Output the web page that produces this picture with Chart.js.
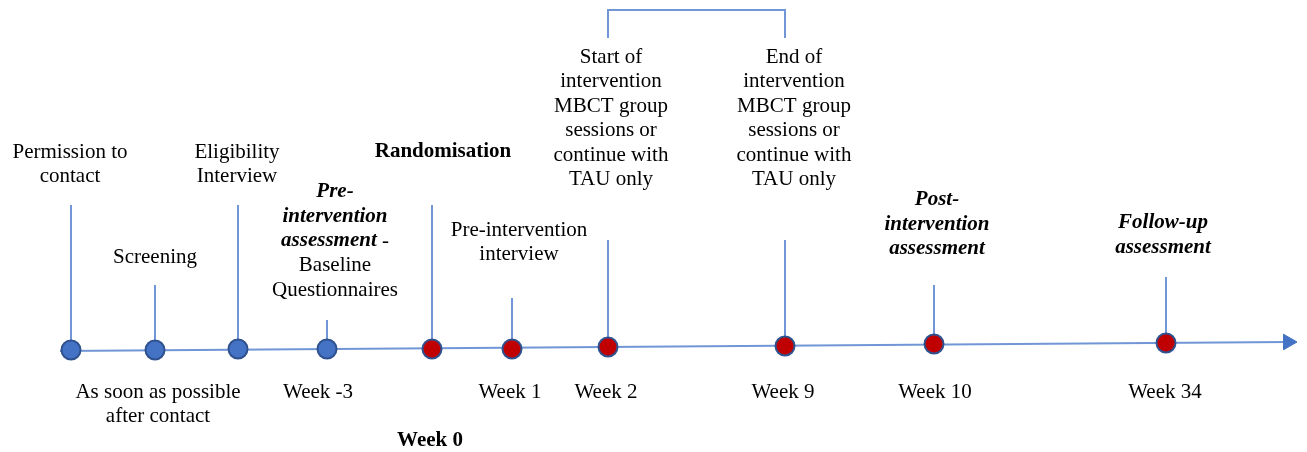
<!DOCTYPE html>
<html>
<head>
<meta charset="utf-8">
<script src="https://cdn.jsdelivr.net/npm/chart.js@4"></script>
<style>
html, body { margin: 0; background: #fff; }
</style>
</head>
<body>
<canvas id="timeline" width="1307" height="452"></canvas>
<script>
// Etapas del estudio a lo largo de la flecha
const stageNames = ['Permission to contact', 'Screening', 'Eligibility Interview', 'Pre-intervention assessment',
    'Randomisation', 'Pre-intervention interview', 'Start of intervention', 'End of intervention',
    'Post-intervention assessment', 'Follow-up assessment'];
const stageX  = [71, 155, 238, 327, 432, 512, 608, 785, 934, 1166];
const stageY  = [350, 350, 349, 349, 349, 349, 347, 346, 344, 343];
const stemTop = [205, 285, 205, 320, 205, 298, 240, 240, 285, 277];
const stagePhase = ['pre', 'pre', 'pre', 'pre', 'post', 'post', 'post', 'post', 'post', 'post'];

// flecha principal y corchete de la intervencion
const axisX = [60, 1288];
const axisY = [351, 342];
const bracketX = [608, 785];
const bracketY = [38, 10];

// textos de arriba (b = negrita, bi = negrita cursiva)
const topTexts = [
    ['Permission to', 'contact'],
    ['Screening'],
    ['Eligibility', 'Interview'],
    [[['Pre-', 'bi']], [['intervention', 'bi']], [['assessment', 'bi'], [' -', 'n']], 'Baseline', 'Questionnaires'],
    [[['Randomisation', 'b']]],
    ['Pre-intervention', 'interview'],
    ['Start of', 'intervention', 'MBCT group', 'sessions or', 'continue with', 'TAU only'],
    ['End of', 'intervention', 'MBCT group', 'sessions or', 'continue with', 'TAU only'],
    [[['Post-', 'bi']], [['intervention', 'bi']], [['assessment', 'bi']]],
    [[['Follow-up', 'bi']], [['assessment', 'bi']]]
];
// textos de abajo (semanas)
const weekTexts = [
    ['As soon as possible', 'after contact'],
    ['Week -3'],
    [[['Week 0', 'b']]],
    ['Week 1'],
    ['Week 2'],
    ['Week 9'],
    ['Week 10'],
    ['Week 34']
];

// ubicacion de cada texto (centro, primera linea)
const topPos = [[70, 152], [155, 257], [237, 152], [335, 192], [443, 152], [519, 230], [611, 57], [794, 57], [937, 200], [1163, 223]];
const weekPos = [[158, 392], [318, 392], [430, 441], [510, 392], [606, 392], [783, 392], [935, 392], [1165, 392]];

const lineBlue = '#7096d6';
const fonts = {
    n: '21px "Liberation Serif", "Times New Roman", serif',
    b: 'bold 21px "Liberation Serif", "Times New Roman", serif',
    bi: 'italic bold 21px "Liberation Serif", "Times New Roman", serif'
};

function drawBlock(ctx, xs, ys, cx, cy, lines) {
    const px = xs.getPixelForValue(cx);
    let py = ys.getPixelForValue(cy);
    lines.forEach(line => {
        const runs = typeof line === 'string' ? [[line, 'n']] : line;
        let w = 0;
        runs.forEach(r => { ctx.font = fonts[r[1]]; w += ctx.measureText(r[0]).width; });
        let x = px - w / 2;
        runs.forEach(r => {
            ctx.font = fonts[r[1]];
            ctx.fillText(r[0], x, py);
            x += ctx.measureText(r[0]).width;
        });
        py += 24.5;
    });
}

const textPlugin = {
    id: 'textos',
    afterDatasetsDraw(chart) {
        const ctx = chart.ctx;
        const xs = chart.scales.x, ys = chart.scales.y;
        ctx.save();
        ctx.fillStyle = '#000';
        ctx.textAlign = 'left';
        ctx.textBaseline = 'middle';
        topTexts.forEach((t, i) => drawBlock(ctx, xs, ys, topPos[i][0], topPos[i][1], t));
        weekTexts.forEach((t, i) => drawBlock(ctx, xs, ys, weekPos[i][0], weekPos[i][1], t));
        ctx.restore();
    }
};

const datasets = [];

// puntos de cada etapa
datasets.push({
    type: 'scatter',
    label: 'etapas',
    data: stageX.map((x, i) => ({x: x, y: stageY[i]})),
    pointRadius: 9.5,
    pointBorderWidth: 2,
    pointBorderColor: '#2f528f',
    pointBackgroundColor: stagePhase.map(p => p === 'pre' ? '#4472c4' : '#c00000'),
    order: 0
});

// punta de la flecha
datasets.push({
    type: 'scatter',
    data: [{x: axisX[1], y: axisY[1]}],
    pointStyle: 'triangle',
    rotation: 90,
    pointRadius: 9,
    pointBackgroundColor: '#4472c4',
    pointBorderColor: '#4472c4',
    order: 1
});

// linea de tiempo
datasets.push({
    type: 'line',
    data: axisX.map((x, i) => ({x: x, y: axisY[i]})),
    borderColor: lineBlue,
    borderWidth: 2,
    pointRadius: 0,
    order: 2
});

// lineas verticales
stageX.forEach((x, i) => {
    datasets.push({
        type: 'line',
        data: [{x: x, y: stageY[i]}, {x: x, y: stemTop[i]}],
        borderColor: lineBlue,
        borderWidth: 2,
        pointRadius: 0,
        order: 2
    });
});

// corchete
datasets.push({
    type: 'line',
    data: [
        {x: bracketX[0], y: bracketY[0]},
        {x: bracketX[0], y: bracketY[1]},
        {x: bracketX[1], y: bracketY[1]},
        {x: bracketX[1], y: bracketY[0]}
    ],
    borderColor: lineBlue,
    borderWidth: 2,
    pointRadius: 0,
    order: 2
});

const myChart = new Chart(document.getElementById('timeline'), {
    type: 'line',
    data: { datasets: datasets },
    options: {
        responsive: false,
        animation: false,
        clip: false,
        layout: { padding: 0, autoPadding: false },
        plugins: { legend: { display: false }, tooltip: { enabled: false } },
        scales: {
            x: { type: 'linear', min: 0, max: 1307, display: false },
            y: { type: 'linear', min: 0, max: 452, reverse: true, display: false }
        }
    },
    plugins: [textPlugin]
});
</script>
</body>
</html>
